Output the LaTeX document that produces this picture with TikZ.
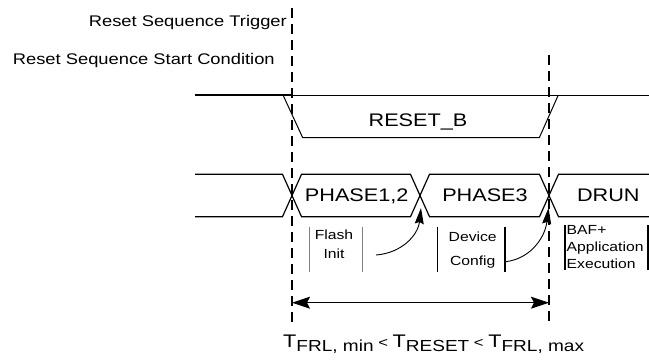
\documentclass[tikz,border=0pt]{standalone}
\usepackage{fontspec}
\setmainfont{Liberation Sans}[FakeStretch=1.19]
\usetikzlibrary{arrows.meta}
\newcommand{\subtxt}[1]{\lower4.4pt\hbox{\fontsize{16}{16}\selectfont #1}}
\newcommand{\lttxt}{\hbox{\fontsize{14}{14}\selectfont\ <\ }}

\begin{document}
\begin{tikzpicture}[x=1pt,y=-1pt,
		sig/.style={line width=1pt},
		bus/.style={line width=1.2pt},
		guide/.style={line width=2.2pt,dash pattern=on 10pt off 6pt},
		bigtxt/.style={font=\fontsize{18.2}{20}\selectfont,inner sep=0pt},
		toptxt/.style={font=\fontsize{15.4}{17}\selectfont,inner sep=0pt},
		boxtxt/.style={font=\fontsize{13.2}{19.3}\selectfont,inner sep=0pt,align=center},
		tip/.style={-{Stealth[length=16pt,width=9pt,inset=2pt]}}]
		\useasboundingbox (0,0) rectangle (649,360);
		\node[toptxt,anchor=base east] (trig) at (287,26.7){Reset Sequence Trigger};
		\node[toptxt,anchor=base west] (start) at (12.7,64.3){Reset Sequence Start Condition};
		\coordinate (gl) at (292,8);
		\coordinate (gr) at (549,55);
		\coordinate (glb) at (292,327);
		\coordinate (grb) at (549,327);
		\draw[guide] (gl) -- (glb);
		\draw[guide] (gr) -- (grb);
		\draw[line width=1.5pt] (195,95) -- (292,95);
		\draw[sig] (292,95) -- (649,95);
		\draw[sig] (283,95) -- (302.7,137.7) -- (539.3,137.7) -- (558.3,95);
		\node[bigtxt,anchor=base] (rst) at (418,126.7){RESET\_B};
		\draw[bus] (195,174.3) -- (282.5,174.3) -- (301.5,216.7) -- (410.5,216.7) -- (429.5,174.3) -- (539.5,174.3) -- (558.5,216.7) -- (649,216.7);
		\draw[bus] (195,216.7) -- (282.5,216.7) -- (301.5,174.3) -- (410.5,174.3) -- (429.5,216.7) -- (539.5,216.7) -- (558.5,174.3) -- (649,174.3);
		\node[bigtxt,anchor=base] (ph12) at (356.7,201.7){PHASE1,2};
		\node[bigtxt,anchor=base] (ph3) at (485,201.7){PHASE3};
		\node[bigtxt,anchor=base] (drun) at (608.3,201.3){DRUN};
		\draw[gray,line width=0.9pt] (309.3,226.7) -- (309.3,271.7);
		\draw[gray,line width=0.9pt] (362.7,226.7) -- (362.7,271.7);
		\node[boxtxt,anchor=base] (flash) at (334,258.3){Flash\\Init};
		\draw[line width=1.1pt] (437.3,226.7) -- (437.3,271.7);
		\draw[line width=1.1pt] (505,226.7) -- (505,271.7);
		\node[boxtxt,anchor=base,font=\fontsize{13.2}{24}\selectfont] (dev) at (472.7,265.5){Device\\Config};
		\draw[line width=1.1pt] (565,225) -- (565,270);
		\draw[line width=1.1pt] (648,225) -- (648,270);
		\node[boxtxt,anchor=base west,align=left,font=\fontsize{13.2}{17}\selectfont] (baf) at (566.5,268.3){BAF+\\Application\\Execution};
		\coordinate (fa) at (376,255);
		\coordinate (x2) at (421,208);
		\coordinate (da) at (505.5,261.7);
		\coordinate (x3) at (548.5,208);
		\draw[tip,line width=0.9pt] (fa) .. controls (402,253) and (418,235) .. (x2);
		\draw[tip,line width=0.9pt] (da) .. controls (530,259) and (545,238) .. (x3);
		\coordinate (tl) at (292,302.7);
		\coordinate (tr) at (549,302.7);
		\draw[{Stealth[length=18pt,width=12pt,inset=3pt]}-{Stealth[length=18pt,width=12pt,inset=3pt]},line width=0.9pt] (tl) -- (tr);
		\node[bigtxt,anchor=base west] (trst) at (283,347.3){T\subtxt{FRL, min}\lttxt T\subtxt{RESET}\lttxt T\subtxt{FRL, max}};
	\end{tikzpicture}
\end{document}
